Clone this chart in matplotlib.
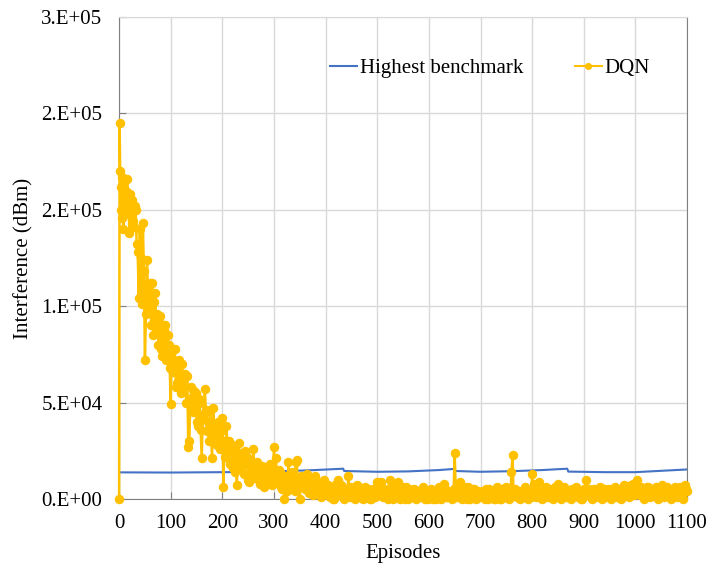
import numpy as np
import matplotlib
matplotlib.use("Agg")
import matplotlib.pyplot as plt

# ===== DATA (interference in thousands) =====
# DQN: episodes 0-11 one by one, then every 2 episodes from 12 to 1100
dqn_head_ep = list(range(0, 12))
dqn_head = [0, 195, 170, 162, 150, 167, 146, 160, 140, 165, 152, 158]

dqn_12_100 = [148, 160, 166, 152, 138, 158, 155, 144, 141, 152, 150, 132, 128,
              104, 140, 125, 101, 143, 118, 72, 96, 124, 105, 98, 112, 90, 112,
              85, 102, 107, 88, 96, 80, 92, 95, 78, 74, 88, 90, 72, 76, 85, 80,
              68, 49]
dqn_102_200 = [78, 66, 72, 78, 58, 60, 70, 72, 62, 55, 70, 58, 64, 65, 50, 64,
               27, 30, 52, 58, 48, 45, 56, 55, 40, 38, 52, 50, 36, 21, 42, 44,
               57, 46, 35, 40, 30, 46, 34, 21, 47, 38, 30, 36, 28, 40, 32, 26,
               35, 42]
dqn_202_300 = [6, 30, 22, 38, 26, 30, 18, 24, 28, 16, 22, 14, 25, 7, 20, 29, 18,
               16, 22, 24, 13, 25, 18, 22, 10, 9, 20, 18, 12, 26, 15, 11, 17, 19,
               10, 8, 16, 17, 9, 6, 14, 15, 8, 9, 16, 18, 10, 7, 13, 27]
dqn_302_400 = [14, 21, 9, 10, 15, 14, 6, 5, 12, 0, 8, 12, 4, 19, 10, 8, 14, 13,
               5, 4, 19, 20, 7, 9, 0, 12, 6, 11, 8, 5, 10, 13, 4, 3, 8, 9, 5, 2,
               7, 12, 3, 4, 9, 8, 2, 1, 6, 10, 4, 3]
dqn_402_500 = [5, 7, 2, 1, 6, 5, 0, 0, 4, 8, 3, 10, 4, 2, 7, 6, 1, 0, 5, 4, 2,
               12, 3, 1, 6, 5, 2, 0, 4, 7, 1, 2, 5, 4, 1, 0, 3, 6, 2, 1, 5, 3,
               0, 0, 4, 5, 1, 1, 3, 9]
dqn_502_600 = [3, 2, 6, 9, 2, 1, 5, 4, 1, 0, 4, 10, 6, 3, 0, 1, 4, 5, 2, 9, 3,
               0, 2, 4, 6, 2, 0, 6, 3, 0, 5, 3, 1, 1, 4, 5, 2, 0, 3, 4, 1, 2, 5,
               6, 2, 0, 4, 3, 0, 1]
dqn_602_700 = [4, 5, 2, 0, 3, 3, 0, 1, 5, 6, 2, 0, 3, 4, 8, 5, 1, 1, 4, 3, 2, 0,
               3, 5, 24, 4, 1, 2, 5, 9, 3, 0, 2, 4, 6, 1, 0, 6, 3, 0, 2, 3, 5,
               5, 1, 0, 3, 4, 2, 1]
dqn_702_800 = [3, 4, 1, 0, 5, 2, 0, 5, 3, 1, 4, 3, 0, 0, 4, 6, 3, 2, 0, 0, 5, 4,
               2, 1, 6, 5, 1, 0, 3, 14, 23, 2, 5, 2, 1, 4, 3, 0, 4, 3, 1, 1, 6,
               5, 2, 0, 4, 3, 1, 13]
dqn_802_900 = [3, 8, 2, 1, 5, 4, 9, 3, 1, 0, 4, 3, 6, 5, 1, 1, 5, 4, 2, 0, 3, 6,
               4, 2, 8, 3, 1, 0, 4, 3, 6, 5, 2, 1, 4, 4, 1, 0, 5, 3, 2, 6, 4, 1,
               3, 4, 0, 0, 4, 5]
dqn_902_1000 = [2, 10, 4, 2, 5, 4, 1, 0, 3, 5, 2, 1, 5, 3, 2, 6, 4, 0, 2, 4, 5,
                2, 1, 5, 3, 0, 4, 3, 2, 6, 4, 1, 2, 4, 5, 0, 3, 5, 7, 2, 4, 6,
                3, 1, 5, 7, 4, 8, 2, 3]
dqn_1002_1100 = [5, 10, 3, 2, 6, 5, 2, 0, 3, 4, 6, 6, 2, 1, 4, 5, 3, 2, 5, 6, 2,
                 0, 3, 4, 5, 7, 3, 1, 4, 5, 6, 2, 3, 0, 2, 4, 5, 6, 3, 1, 4, 3,
                 6, 5, 2, 0, 4, 7, 5, 4]

# Highest benchmark (slow sawtooth)
bench_ep = [0, 100, 200, 260, 320, 380, 434, 436, 500, 560, 620, 650, 652,
            700, 760, 820, 868, 870, 940, 1000, 1050, 1100]
bench_k = [13.8, 13.7, 13.9, 14.0, 14.4, 15.0, 15.7, 14.5, 14.1, 14.3, 15.0,
           15.6, 14.5, 14.1, 14.4, 15.0, 15.7, 14.2, 13.9, 13.9, 14.6, 15.3]

y_ticks = [0, 50, 100, 150, 200, 250]
y_labels = ["0.E+00", "5.E+04", "1.E+05", "2.E+05", "2.E+05", "3.E+05"]
x_ticks = list(range(0, 1101, 100))

# ===== BUILD SERIES =====
dqn_ep = dqn_head_ep + list(range(12, 1101, 2))
dqn_k = (dqn_head + dqn_12_100 + dqn_102_200 + dqn_202_300 + dqn_302_400
         + dqn_402_500 + dqn_502_600 + dqn_602_700 + dqn_702_800
         + dqn_802_900 + dqn_902_1000 + dqn_1002_1100)

plt.rcParams["font.family"] = ["Liberation Serif", "DejaVu Serif"]

fig = plt.figure(figsize=(7.09, 5.67), dpi=100)
ax = fig.add_axes([0.168, 0.120, 0.801, 0.850])

ax.plot(bench_ep, bench_k, color="#4472C4", lw=1.5, label="Highest benchmark")
ax.plot(dqn_ep, dqn_k, color="#FFC000", lw=1.8, marker="o", ms=5.8,
        label="DQN", clip_on=False, zorder=3)

ax.set_xlim(0, 1100)
ax.set_ylim(0, 250)
ax.set_xticks(x_ticks)
ax.set_yticks(y_ticks)
ax.set_yticklabels(y_labels)
ax.tick_params(direction="in", length=5, color="#808080", labelsize=15)
ax.tick_params(axis="y", pad=12)
ax.tick_params(axis="x", pad=11)
ax.grid(True, color="#D9D9D9", lw=1.0)
ax.set_axisbelow(True)

for side in ["left", "bottom", "right"]:
    ax.spines[side].set_color("#808080")
ax.spines["top"].set_color("#D9D9D9")

ax.set_xlabel("Episodes", fontsize=15, labelpad=8)
ax.set_ylabel("Interference (dBm)", fontsize=15, labelpad=6)

leg = ax.legend(loc="center right", bbox_to_anchor=(0.968, 0.894), ncol=2,
                frameon=False, fontsize=15, handlelength=1.3,
                handletextpad=0.15, columnspacing=2.45, markerscale=0.7)
leg.get_lines()[1].set_linewidth(1.5)

fig.savefig("out.png", dpi=100)
